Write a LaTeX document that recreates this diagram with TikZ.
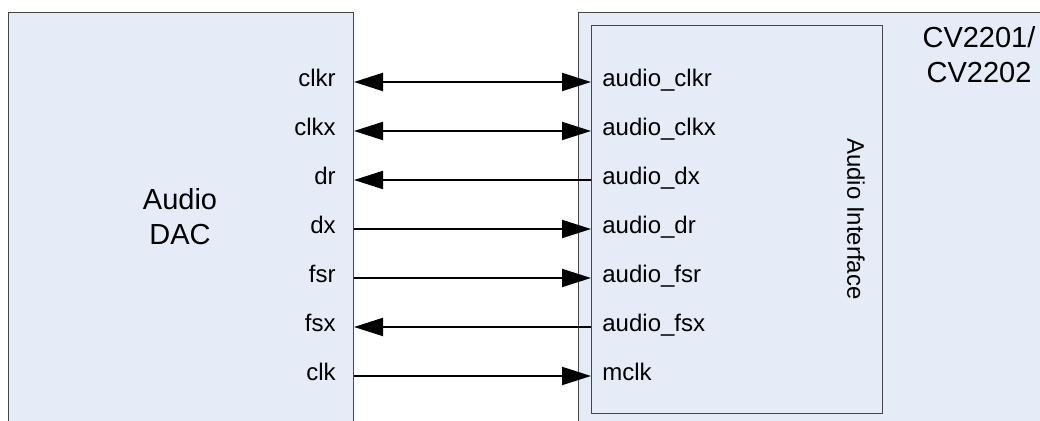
\documentclass[tikz,border=0pt]{standalone}
\usepackage{fontspec}
\setmainfont{Liberation Sans}
\usetikzlibrary{arrows.meta}
\definecolor{boxfill}{RGB}{230,236,247}
\definecolor{boxline}{RGB}{70,70,70}
\tikzstyle{block} = [rectangle, draw=boxline, fill=boxfill, line width=0.5pt,
                 anchor=north west, inner sep=0pt]
\tikzstyle{sig} = [line width=1pt, >={Triangle[length=14.5pt,width=9pt]}]
\tikzstyle{port} = [inner sep=0pt, font=\fontsize{12}{14}\selectfont]
\tikzstyle{title} = [inner sep=0pt, align=center,
                 font=\fontsize{14.5}{17.5}\selectfont]

\begin{document}
\begin{tikzpicture}[x=0.5pt,y=-0.5pt]

\useasboundingbox (0,0) rectangle (1040,421);
\fill[white] (0,0) rectangle (1040,421);

    	%blocks
\node [block, minimum width=172.5pt, minimum height=214pt] (dac) at (8,12) {};
\node [block, minimum width=250pt, minimum height=214pt] (soc) at (578,12) {};
\node [block, minimum width=145.5pt, minimum height=194pt] (iface) at (591,25) {};

\node [title] (dactext) at (180,216.4) {Audio\\DAC};
\node [title] (soctext) at (979,55) {CV2201/\\CV2202};
\node [title, font=\fontsize{12}{14}\selectfont, rotate=-90] (iftext) at (856,219) {Audio Interface};

    	%signals
\foreach \i/\y/\dacpin/\socpin/\dir in {1/82/clkr/audio\_clkr/<->, 2/131/clkx/audio\_clkx/<->,
		3/180/dr/audio\_dx/<-, 4/229/dx/audio\_dr/->, 5/278/fsr/audio\_fsr/->,
		6/327/fsx/audio\_fsx/<-, 7/376/clk/mclk/->}
{
	\coordinate (row\i) at (0,\y);
	\node [port, anchor=base east] (dac\i) at (336,\y+5) {\dacpin};
	\node [port, anchor=base west] (soc\i) at (602,\y+5) {\socpin};
	\draw [sig, \dir] (dac.east |- row\i) -- (iface.west |- row\i);
}

\end{tikzpicture}
\end{document}
